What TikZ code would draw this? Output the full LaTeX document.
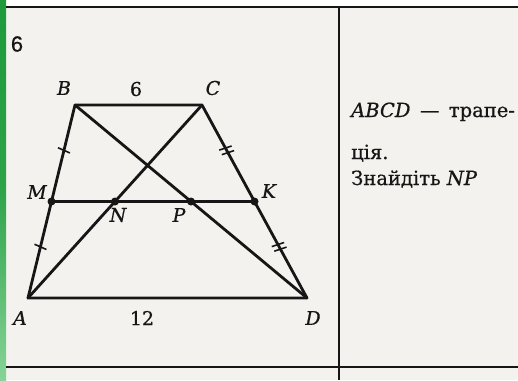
\documentclass[tikz,border=0pt]{standalone}
\usepackage{fontspec}
\setmainfont{DejaVu Serif}[FakeBold=0.7]
\setsansfont{Liberation Sans}[FakeBold=0.6]
\usetikzlibrary{calc,positioning}
\definecolor{paper}{HTML}{F3F2EE}
\definecolor{ink}{HTML}{161616}
\definecolor{stripe}{HTML}{1E9A3C}
\definecolor{stripelight}{HTML}{86D497}
\tikzset{
  edge/.style={draw=ink, line width=2.8pt, line cap=round, line join=round},
  frame/.style={draw=ink, line width=1.8pt},
  ptlabel/.style={font=\fontsize{19}{19}\selectfont\itshape, text=ink, inner sep=0pt},
  numlabel/.style={font=\fontsize{19}{19}\selectfont, text=ink, inner sep=0pt},
  txt/.style={font=\fontsize{19.5}{19.5}\selectfont, text=ink, inner sep=0pt, anchor=base west},
  tickmark/.style={draw=ink, line width=1.6pt},
  dot/.style={circle, fill=ink, inner sep=0pt, minimum size=8pt},
}
\begin{document}
\begin{tikzpicture}[x=1pt,y=-1pt]
        % page and frame
        \fill[paper] (0,0) rectangle (518,380);
        \fill[white] (0,0) rectangle (518,6);
        \shade[top color=stripe, bottom color=stripelight, middle color=stripe!85!stripelight] (0,0) rectangle (6,380);
        \useasboundingbox (0,0) rectangle (518,380);
        \draw[frame] (6,7) -- (518,7);
        \draw[frame] (6,367) -- (518,367);
        \draw[frame] (339,7) -- (339,380);
        \node[font=\sffamily\fontsize{22}{22}\selectfont, text=ink, inner sep=0pt] (num) at (17,44) {6};
        % trapezoid
        \coordinate (A) at (28,298);
        \coordinate (B) at (75,105);
        \coordinate (C) at (202,105);
        \coordinate (D) at (307,298);
        \coordinate (M) at ($(A)!0.5!(B)$);
        \coordinate (K) at ($(D)!0.5!(C)$);
        \coordinate (N) at ($(A)!0.5!(C)$);
        \coordinate (P) at ($(B)!0.5!(D)$);
        \draw[edge] (A) -- (B) -- (C) -- (D) -- cycle;
        \draw[edge] (A) -- (C);
        \draw[edge] (B) -- (D);
        \draw[edge] (M) -- (K);
        \foreach \p in {M,N,P,K}
          \node[dot] (dot\p) at (\p) {};
        % equal segments
        \foreach \u/\v in {B/M, M/A} {
          \coordinate (t) at ($(\u)!0.47!(\v)$);
          \draw[tickmark] ($(t)!6.5pt!80:(\v)$) -- ($(t)!6.5pt!-100:(\v)$);
        }
        \foreach \u/\v in {C/K, K/D} {
          \coordinate (t) at ($(\u)!0.47!(\v)$);
          \foreach \s in {-2.6pt, 2.6pt} {
            \coordinate (ts) at ($(t)!\s!(\v)$);
            \draw[tickmark] ($(ts)!6.5pt!80:(\v)$) -- ($(ts)!6.5pt!-100:(\v)$);
          }
        }
        % labels
        \node[ptlabel] (labA) at (20,318) {A};
        \node[ptlabel] (labB) at (64,88) {B};
        \node[ptlabel] (labC) at (213,88) {C};
        \node[ptlabel] (labD) at (313,318) {D};
        \node[ptlabel] (labM) at (37,192) {M};
        \node[ptlabel] (labK) at (269,191) {K};
        \node[ptlabel] (labN) at (118,215) {N};
        \node[ptlabel] (labP) at (179,215) {P};
        \node[numlabel] (labBC) at (136,89) {6};
        \node[numlabel] (labAD) at (142,318) {12};
        % task text
        \node[txt] (task1) at (351,117) {\textit{ABCD} \,—\, трапе-};
        \node[txt] (task2) at (351,159) {ція.};
        \node[txt] (task3) at (351,185) {Знайдіть \textit{NP}};
      \end{tikzpicture}
\end{document}
